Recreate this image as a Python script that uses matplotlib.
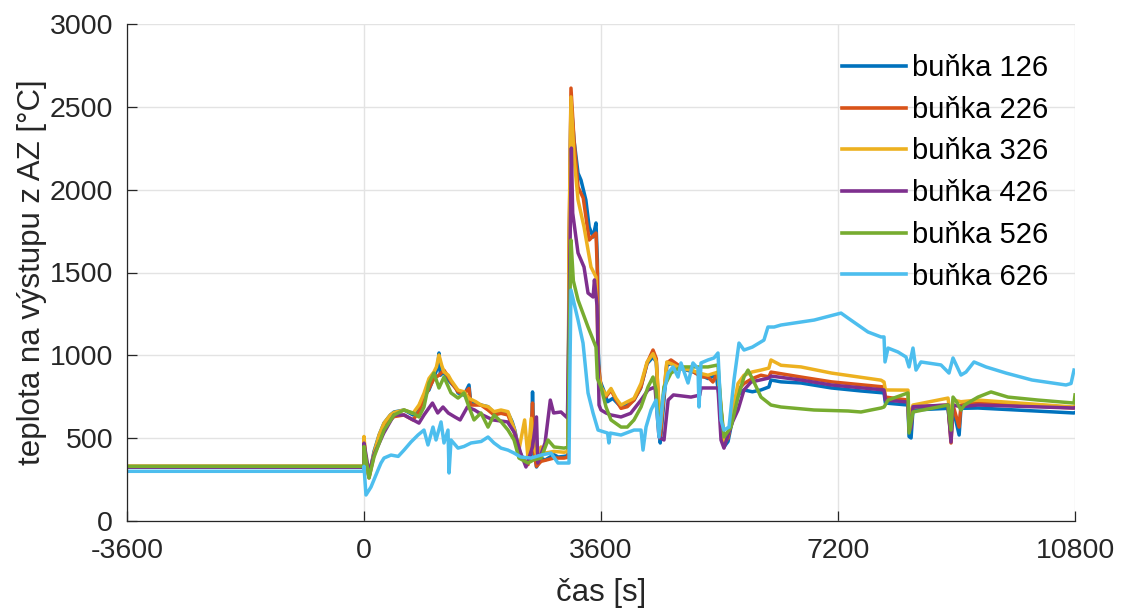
import matplotlib
matplotlib.use("Agg")
import matplotlib.pyplot as plt

plt.rcParams['font.family'] = ['Liberation Sans', 'DejaVu Sans']

labels = ["buňka 126", "buňka 226", "buňka 326", "buňka 426", "buňka 526", "buňka 626"]
colors = ["#0072BD", "#D95319", "#EDB120", "#7E2F8E", "#77AC30", "#4DBEEE"]

x_ticks = [-3600, 0, 3600, 7200, 10800]
y_ticks = [0, 500, 1000, 1500, 2000, 2500, 3000]

t_126 = [-3600, -1, 0, 30, 76, 152, 230, 304, 400, 456, 608, 700, 744, 835, 911, 987, 1063, 1120, 1139, 1160, 1215, 1260, 1322, 1400, 1428, 1519, 1595, 1620, 1700, 1777, 1884, 1975, 2081, 2187, 2250, 2290, 2354, 2420, 2491, 2540, 2560, 2582, 2620, 2689, 2750, 2886, 2950, 3038, 3100, 3114, 3144, 3190, 3251, 3296, 3370, 3420, 3480, 3524, 3545, 3560, 3580, 3640, 3700, 3780, 3900, 4000, 4100, 4200, 4300, 4390, 4440, 4481, 4500, 4540, 4600, 4663, 4815, 5000, 5225, 5350, 5423, 5468, 5530, 5600, 5681, 5772, 5900, 6030, 6150, 6182, 6334, 6638, 7100, 7549, 7899, 7920, 8263, 8279, 8310, 8339, 8871, 8917, 8947, 9040, 9068, 9327, 10785, 10800]
v_126 = [325, 325, 480, 350, 270, 420, 520, 591, 640, 658, 670, 650, 640, 690, 760, 791, 869, 930, 1014, 880, 900, 860, 833, 800, 773, 760, 821, 718, 712, 700, 690, 652, 660, 652, 600, 549, 430, 368, 350, 400, 779, 447, 326, 380, 368, 400, 386, 390, 395, 1500, 2541, 2300, 2100, 2058, 1938, 1775, 1714, 1799, 1575, 1014, 851, 790, 720, 740, 690, 700, 730, 800, 950, 990, 960, 600, 471, 650, 940, 950, 920, 900, 860, 880, 670, 447, 480, 620, 760, 791, 780, 791, 809, 851, 840, 833, 803, 785, 773, 712, 700, 510, 501, 670, 680, 507, 680, 519, 680, 682, 652, 655]

t_226 = [-3600, -1, 0, 30, 76, 152, 230, 304, 400, 456, 608, 744, 835, 911, 987, 1063, 1139, 1215, 1280, 1322, 1428, 1519, 1595, 1620, 1777, 1884, 1975, 2081, 2187, 2279, 2354, 2491, 2540, 2560, 2582, 2620, 2689, 2886, 3038, 3100, 3114, 3144, 3190, 3251, 3330, 3420, 3524, 3545, 3560, 3600, 3676, 3752, 3830, 3904, 4000, 4101, 4208, 4300, 4390, 4440, 4481, 4500, 4540, 4600, 4663, 4815, 4967, 5119, 5225, 5300, 5377, 5423, 5468, 5530, 5600, 5681, 5772, 5900, 6030, 6150, 6182, 6638, 7100, 7899, 7920, 8263, 8279, 8310, 8339, 8871, 8917, 8947, 9040, 9068, 9327, 10785, 10800]
v_226 = [330, 330, 490, 350, 260, 400, 500, 570, 610, 630, 640, 610, 660, 740, 800, 860, 880, 910, 870, 840, 780, 770, 800, 700, 700, 670, 640, 650, 640, 540, 400, 340, 560, 712, 420, 330, 360, 380, 380, 385, 1600, 2613, 2300, 2016, 1950, 1696, 1738, 1500, 950, 809, 750, 790, 730, 680, 690, 730, 809, 954, 1032, 980, 650, 500, 700, 954, 972, 930, 911, 870, 869, 839, 899, 670, 470, 500, 640, 790, 830, 860, 880, 870, 899, 869, 840, 809, 748, 730, 560, 580, 688, 700, 471, 700, 567, 700, 712, 682, 690]

t_326 = [-3600, -1, 0, 30, 76, 152, 230, 304, 400, 456, 608, 744, 835, 911, 987, 1063, 1100, 1139, 1180, 1215, 1280, 1322, 1428, 1519, 1595, 1700, 1777, 1884, 1975, 2081, 2187, 2279, 2354, 2440, 2491, 2540, 2582, 2620, 2689, 2750, 2886, 3038, 3100, 3114, 3144, 3190, 3251, 3342, 3448, 3524, 3545, 3560, 3600, 3676, 3752, 3830, 3904, 4000, 4101, 4208, 4300, 4390, 4440, 4481, 4500, 4540, 4600, 4663, 4815, 4967, 5119, 5225, 5377, 5423, 5468, 5530, 5600, 5681, 5772, 5900, 6030, 6150, 6182, 6334, 6638, 7100, 7853, 7899, 7920, 8263, 8279, 8339, 8871, 8917, 8947, 9068, 9327, 10785, 10800]
v_326 = [330, 330, 510, 360, 270, 410, 520, 591, 640, 655, 670, 650, 700, 770, 860, 900, 930, 1002, 940, 900, 880, 850, 790, 780, 740, 720, 700, 690, 660, 670, 660, 560, 430, 610, 380, 620, 447, 400, 447, 410, 420, 415, 420, 1700, 2560, 2200, 1938, 1775, 1533, 1473, 1200, 900, 810, 760, 800, 740, 700, 720, 740, 830, 960, 1010, 960, 700, 560, 720, 960, 950, 920, 911, 890, 880, 899, 680, 480, 520, 660, 830, 880, 900, 911, 923, 972, 940, 930, 893, 850, 839, 791, 790, 600, 700, 742, 600, 730, 720, 730, 688, 695]

t_426 = [-3600, -1, 0, 30, 76, 152, 300, 456, 608, 700, 835, 911, 1040, 1120, 1200, 1280, 1380, 1460, 1570, 1680, 1800, 1960, 2180, 2290, 2380, 2460, 2560, 2620, 2640, 2750, 2830, 2880, 2992, 3090, 3114, 3150, 3170, 3251, 3342, 3403, 3480, 3500, 3540, 3555, 3570, 3600, 3676, 3752, 3904, 4050, 4208, 4314, 4420, 4481, 4557, 4620, 4700, 4967, 5100, 5119, 5377, 5423, 5468, 5530, 5600, 5681, 5772, 5880, 6150, 6182, 6638, 7100, 7899, 7920, 8263, 8279, 8310, 8339, 8871, 8917, 8947, 9068, 9327, 10785, 10800]
v_426 = [325, 325, 470, 400, 290, 400, 531, 640, 640, 620, 591, 640, 712, 652, 688, 652, 628, 610, 688, 670, 640, 610, 598, 531, 410, 326, 447, 628, 350, 471, 730, 652, 658, 622, 1200, 2251, 1859, 1618, 1533, 1376, 1352, 1455, 1300, 1014, 700, 670, 652, 640, 628, 650, 730, 791, 809, 507, 489, 730, 761, 748, 760, 803, 803, 489, 440, 520, 600, 670, 791, 839, 863, 875, 851, 821, 791, 730, 718, 540, 560, 690, 700, 477, 700, 690, 700, 682, 685]

t_526 = [-3600, -1, 0, 76, 152, 304, 456, 608, 744, 835, 911, 987, 1063, 1139, 1215, 1322, 1428, 1519, 1595, 1671, 1777, 1884, 1975, 2081, 2187, 2279, 2354, 2491, 2582, 2689, 2795, 2886, 3038, 3100, 3114, 3144, 3180, 3251, 3403, 3524, 3545, 3600, 3676, 3752, 3904, 4000, 4101, 4208, 4314, 4390, 4436, 4481, 4557, 4663, 4815, 5225, 5377, 5423, 5468, 5574, 5681, 5772, 5833, 5909, 6030, 6182, 6334, 6836, 7352, 7549, 7853, 7899, 7960, 8263, 8279, 8339, 8871, 8917, 8947, 9000, 9068, 9120, 9327, 9524, 9782, 10238, 10785, 10800]
v_526 = [330, 330, 450, 260, 386, 549, 640, 670, 652, 628, 688, 833, 893, 803, 869, 773, 742, 773, 688, 610, 652, 567, 640, 600, 549, 489, 380, 350, 370, 380, 489, 447, 440, 445, 1000, 1696, 1450, 1334, 1171, 1050, 860, 809, 688, 610, 567, 567, 610, 688, 809, 869, 791, 531, 809, 893, 930, 930, 942, 688, 507, 567, 748, 869, 911, 851, 748, 700, 688, 670, 664, 658, 682, 688, 730, 773, 531, 658, 700, 549, 748, 720, 670, 700, 748, 779, 748, 730, 712, 761]

t_626 = [-3600, -1, 0, 30, 106, 213, 258, 304, 410, 520, 608, 714, 820, 911, 972, 1048, 1094, 1170, 1215, 1276, 1292, 1322, 1428, 1519, 1626, 1780, 1884, 1975, 2081, 2187, 2279, 2384, 2536, 2689, 2840, 2946, 3114, 3130, 3144, 3251, 3327, 3403, 3479, 3555, 3700, 3720, 3740, 3904, 4101, 4208, 4238, 4284, 4360, 4436, 4481, 4542, 4618, 4694, 4770, 4815, 4922, 4997, 5073, 5089, 5119, 5225, 5316, 5377, 5392, 5423, 5468, 5544, 5620, 5696, 5772, 5900, 6075, 6136, 6230, 6334, 6838, 7246, 7352, 7655, 7853, 7899, 7914, 7960, 8112, 8233, 8279, 8339, 8385, 8460, 8764, 8886, 8947, 9068, 9144, 9266, 9448, 9752, 10147, 10663, 10740, 10785]
v_626 = [300, 300, 330, 157, 205, 308, 350, 380, 398, 390, 428, 477, 519, 549, 459, 567, 489, 598, 471, 549, 290, 489, 440, 450, 471, 480, 507, 471, 440, 428, 410, 386, 380, 398, 410, 350, 350, 972, 1394, 1213, 1074, 773, 652, 549, 531, 471, 531, 519, 549, 549, 428, 567, 670, 730, 507, 748, 893, 930, 869, 954, 833, 954, 920, 688, 954, 972, 984, 1014, 893, 610, 549, 567, 851, 1074, 1032, 1050, 1092, 1171, 1171, 1183, 1213, 1255, 1225, 1141, 1111, 1111, 960, 1044, 1020, 990, 930, 1044, 911, 960, 942, 893, 984, 881, 899, 960, 930, 893, 851, 821, 830, 911]

series_t = [t_126, t_226, t_326, t_426, t_526, t_626]
series_v = [v_126, v_226, v_326, v_426, v_526, v_626]

fig = plt.figure(figsize=(11.23, 6.14), dpi=100)
ax = fig.add_axes([127 / 1123, 93 / 614, 948 / 1123, 497 / 614])

for t, v, c, lab in zip(series_t, series_v, colors, labels):
    ax.plot(t, v, color=c, lw=2.5, label=lab, solid_joinstyle='round')

ax.set_xlim(-3600, 10800)
ax.set_ylim(0, 3000)
ax.set_xticks(x_ticks)
ax.set_yticks(y_ticks)
ax.set_xticklabels([str(x) for x in x_ticks])
ax.grid(True, color='#e3e3e3', lw=1.0)
ax.set_axisbelow(True)
for s in ['top', 'right']:
    ax.spines[s].set_visible(False)
for s in ['left', 'bottom']:
    ax.spines[s].set_color('#262626')
    ax.spines[s].set_linewidth(0.9)
ax.tick_params(direction='in', length=7, width=0.9, colors='#262626',
               labelsize=20.5, labelcolor='#262626')
ax.tick_params(axis='x', pad=12)
ax.tick_params(axis='y', pad=10)

ax.set_xlabel("čas [s]", fontsize=22.5, color='#262626', labelpad=10)
ax.set_ylabel("teplota na výstupu z AZ [°C]", fontsize=22.5, color='#262626', labelpad=2)

leg = ax.legend(loc='upper left', bbox_to_anchor=(842 / 1123, 1 - 54 / 614),
                bbox_transform=fig.transFigure, frameon=False, borderpad=0,
                fontsize=21, handlelength=2.2, handletextpad=0.2,
                labelspacing=0.47, borderaxespad=0)
for line in leg.get_lines():
    line.set_linewidth(2.6)

fig.savefig("out.png", dpi=100)
